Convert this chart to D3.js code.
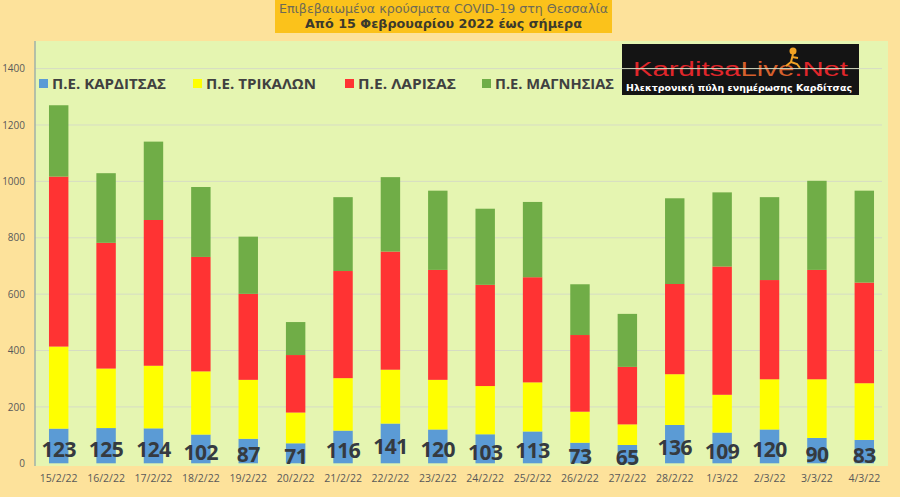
<!DOCTYPE html>
<html>
<head>
<meta charset="utf-8">
<script src="https://cdn.jsdelivr.net/npm/d3@7"></script>
<style>
  body { margin: 0; background: #fde59f; }
  svg { display: block; }
</style>
</head>
<body>
<div id="chart"></div>
<script>
// data
const dates = ["15/2/22", "16/2/22", "17/2/22", "18/2/22", "19/2/22", "20/2/22", "21/2/22", "22/2/22", "23/2/22",
  "24/2/22", "25/2/22", "26/2/22", "27/2/22", "28/2/22", "1/3/22", "2/3/22", "3/3/22", "4/3/22"];
const karditsa = [123, 125, 124, 102, 87, 71, 116, 141, 120, 103, 113, 73, 65, 136, 109, 120, 90, 83];
const trikala = [291, 211, 222, 224, 209, 109, 186, 191, 176, 171, 174, 110, 73, 180, 134, 178, 208, 201];
const larisa = [603, 446, 517, 406, 305, 204, 380, 419, 390, 359, 373, 272, 204, 320, 455, 352, 388, 357];
const magnisia = [253, 247, 278, 248, 203, 117, 262, 264, 281, 270, 267, 180, 188, 304, 263, 294, 316, 326];
const seriesNames = ["Π.Ε. ΚΑΡΔΙΤΣΑΣ", "Π.Ε. ΤΡΙΚΑΛΩΝ", "Π.Ε. ΛΑΡΙΣΑΣ", "Π.Ε. ΜΑΓΝΗΣΙΑΣ"];
const seriesColors = ["#5b9bd5", "#ffff00", "#ff3333", "#70ad47"];
const yTicks = [0, 200, 400, 600, 800, 1000, 1200, 1400];
const titleLine1 = "Επιβεβαιωμένα κρούσματα COVID-19 στη Θεσσαλία";
const titleLine2 = "Από 15 Φεβρουαρίου 2022 έως σήμερα";

const W = 900, H = 497;
const plot = { left: 35, right: 888, top: 41, bottom: 466 };

const svg = d3.select("#chart").append("svg")
  .attr("width", W).attr("height", H);

svg.append("rect").attr("width", W).attr("height", H).attr("fill", "#fde29b");

// plot area background
svg.append("rect")
  .attr("x", plot.left).attr("y", plot.top)
  .attr("width", plot.right - plot.left).attr("height", plot.bottom - plot.top)
  .attr("fill", "#e5f5b1");

const x = d3.scaleBand()
  .domain(dates)
  .range([plot.left, plot.right])
  .paddingInner(0.59)
  .paddingOuter(0.295);

const y = d3.scaleLinear()
  .domain([0, 1400])
  .range([463.3, 68.6]);

// logo (sits under the gridline like in the original)
const logo = svg.append("g");
logo.append("rect")
  .attr("x", 622).attr("y", 44).attr("width", 237).attr("height", 51)
  .attr("fill", "#141414");
const logoText = logo.append("text")
  .attr("x", 633).attr("y", 76)
  .attr("font-family", "Liberation Sans, Arial, sans-serif")
  .attr("font-size", 20)
  .attr("textLength", 215)
  .attr("lengthAdjust", "spacingAndGlyphs");
logoText.append("tspan").attr("fill", "#e0262b").text("Karditsa");
logoText.append("tspan").attr("fill", "#d6602c").text("Live");
logoText.append("tspan").attr("fill", "#e0262b").text(".Net");
logo.append("circle").attr("cx", 793).attr("cy", 51).attr("r", 3.5).attr("fill", "#f2a324");
logo.append("path")
  .attr("d", "M793,54 L791,62 L786,66 M791,62 L797,64 L800,68 M792,57 L798,58")
  .attr("stroke", "#f2a324").attr("stroke-width", 2).attr("fill", "none");
logo.append("text")
  .attr("x", 626).attr("y", 91)
  .attr("font-family", "DejaVu Sans, sans-serif")
  .attr("font-weight", "bold")
  .attr("font-size", 9)
  .attr("fill", "#ffffff")
  .attr("textLength", 226)
  .attr("lengthAdjust", "spacingAndGlyphs")
  .text("Ηλεκτρονική πύλη ενημέρωσης Καρδίτσας");

// gridlines
svg.append("g")
  .selectAll("line")
  .data(yTicks.slice(1))
  .join("line")
  .attr("x1", plot.left).attr("x2", plot.right - 6)
  .attr("y1", (d) => y(d)).attr("y2", (d) => y(d))
  .attr("stroke", "#d6dcc4")
  .attr("stroke-width", 1);

// y axis
const yAxis = svg.append("g")
  .attr("transform", `translate(${plot.left},0)`)
  .call(d3.axisLeft(y).tickValues(yTicks).tickFormat(d3.format("d")).tickSize(0).tickPadding(10));
yAxis.select(".domain").remove();
yAxis.selectAll("text")
  .attr("font-family", "Open Sans, sans-serif")
  .attr("font-size", 10)
  .attr("fill", "#595959");
svg.append("line")
  .attr("x1", plot.left).attr("x2", plot.left)
  .attr("y1", plot.top).attr("y2", plot.bottom)
  .attr("stroke", "#9fb0a8").attr("stroke-width", 1.5);

// x axis
const xAxis = svg.append("g")
  .attr("transform", `translate(0,${plot.bottom})`)
  .call(d3.axisBottom(x).tickSize(0).tickPadding(9));
xAxis.select(".domain").remove();
xAxis.selectAll("text")
  .attr("font-family", "Open Sans, sans-serif")
  .attr("font-size", 10.5)
  .attr("fill", "#595959");

// stacked bars
const table = dates.map((d, i) => ({
  date: d, k: karditsa[i], t: trikala[i], l: larisa[i], m: magnisia[i]
}));
const stack = d3.stack().keys(["k", "t", "l", "m"])(table);

svg.append("g")
  .selectAll("g")
  .data(stack)
  .join("g")
  .attr("fill", (d, i) => seriesColors[i])
  .selectAll("rect")
  .data((d) => d)
  .join("rect")
  .attr("x", (d) => x(d.data.date))
  .attr("width", x.bandwidth())
  .attr("y", (d) => y(d[1]))
  .attr("height", (d) => y(d[0]) - y(d[1]));

// labels on the Karditsa segment
svg.append("g")
  .selectAll("text")
  .data(table)
  .join("text")
  .attr("x", (d) => x(d.date) + x.bandwidth() / 2)
  .attr("y", (d) => (y(0) + y(d.k)) / 2 + 3)
  .attr("text-anchor", "middle")
  .attr("dominant-baseline", "central")
  .attr("font-family", "Open Sans, sans-serif")
  .attr("font-weight", "bold")
  .attr("font-size", 21)
  .attr("letter-spacing", -0.5)
  .attr("fill", "#353a40")
  .text((d) => d.k);

// legend
const legendX = [39, 193, 345, 482];
const legendW = [114, 110, 98, 119];
const legend = svg.append("g")
  .selectAll("g")
  .data(seriesNames)
  .join("g")
  .attr("transform", (d, i) => `translate(${legendX[i]},83)`);
legend.append("rect")
  .attr("x", 0).attr("y", -4).attr("width", 9).attr("height", 9)
  .attr("fill", (d, i) => seriesColors[i]);
legend.append("text")
  .attr("x", 13).attr("y", 0)
  .attr("dominant-baseline", "central")
  .attr("font-family", "Open Sans, sans-serif")
  .attr("font-weight", "bold")
  .attr("font-size", 15)
  .attr("fill", "#404040")
  .attr("textLength", (d, i) => legendW[i])
  .attr("lengthAdjust", "spacingAndGlyphs")
  .text((d) => d);

// title box
svg.append("rect")
  .attr("x", 275).attr("y", 0).attr("width", 337).attr("height", 33)
  .attr("fill", "#fbc21b");
svg.append("text")
  .attr("x", 443.5).attr("y", 13)
  .attr("text-anchor", "middle")
  .attr("font-family", "DejaVu Sans, sans-serif")
  .attr("font-size", 12)
  .attr("fill", "#6e6a55")
  .attr("textLength", 329)
  .attr("lengthAdjust", "spacingAndGlyphs")
  .text(titleLine1);
svg.append("text")
  .attr("x", 443.5).attr("y", 28)
  .attr("text-anchor", "middle")
  .attr("font-family", "DejaVu Sans, sans-serif")
  .attr("font-weight", "bold")
  .attr("font-size", 12)
  .attr("fill", "#3c3a2c")
  .attr("textLength", 277)
  .attr("lengthAdjust", "spacingAndGlyphs")
  .text(titleLine2);
</script>
</body>
</html>
